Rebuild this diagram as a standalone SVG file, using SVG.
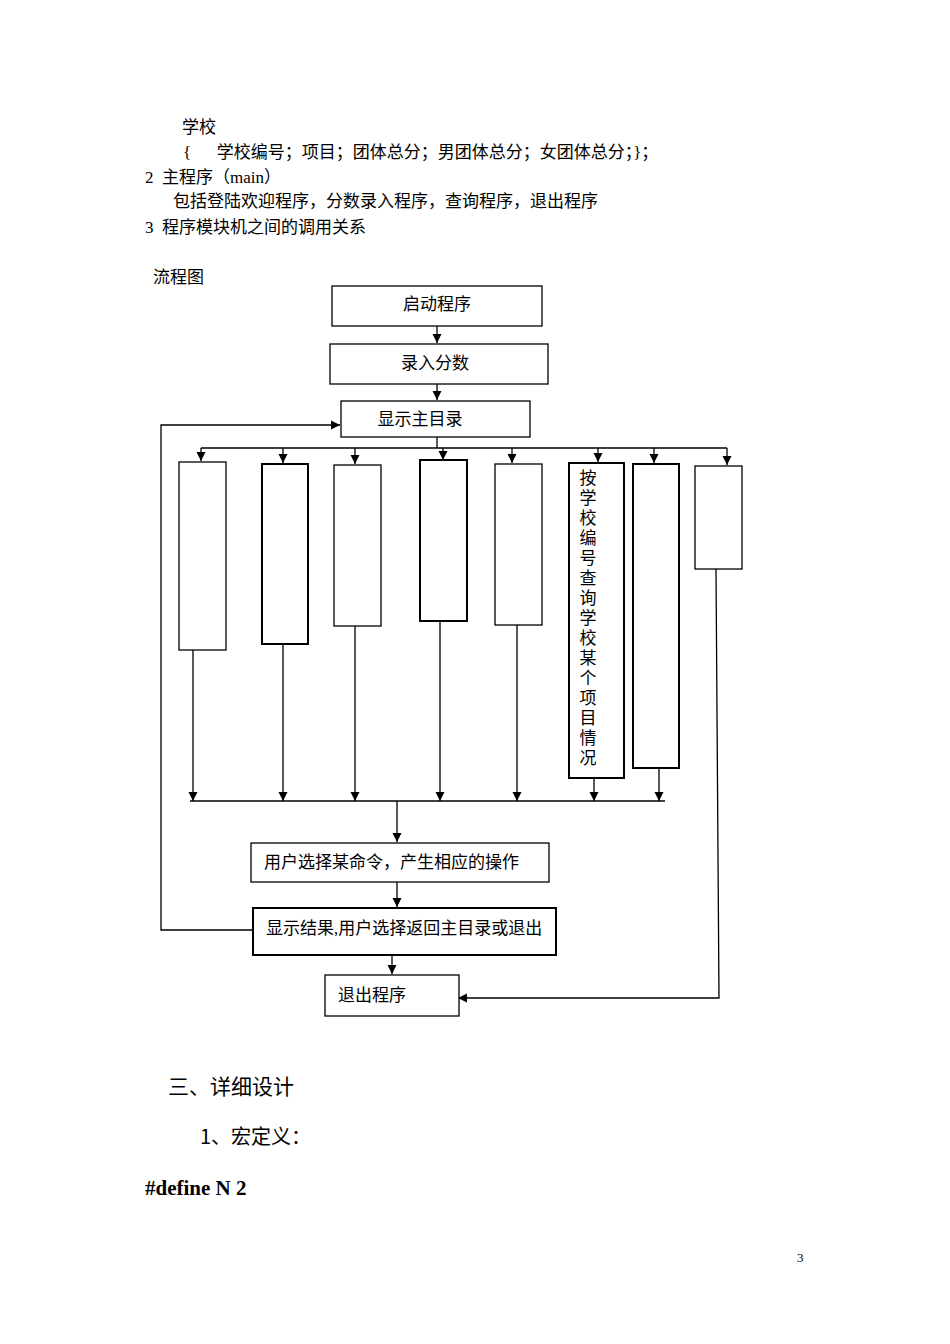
<svg xmlns="http://www.w3.org/2000/svg" width="950" height="1344" viewBox="0 0 950 1344">
<style>
text{font-family:"Liberation Serif","Noto Sans CJK SC",serif;fill:#000}
.t{font-size:17px}
.b rect{fill:#fff;stroke:#000;stroke-width:1.3}
.c line,.c polyline{stroke:#000;stroke-width:1.3;fill:none}
</style>
<defs><marker id="a" viewBox="0 0 10 10" refX="10" refY="5" markerWidth="7" markerHeight="7" orient="auto"><path d="M0,0L10,5L0,10z" fill="#000"/></marker></defs>
<rect width="950" height="1344" fill="#fff"/>
<text class="t" x="182" y="133">学校</text>
<text class="t" x="183" y="158" xml:space="preserve">{      学校编号；项目；团体总分；男团体总分；女团体总分；}；</text>
<text class="t" x="145" y="183" xml:space="preserve">2  主程序（main）</text>
<text class="t" x="173" y="207">包括登陆欢迎程序，分数录入程序，查询程序，退出程序</text>
<text class="t" x="145" y="233" xml:space="preserve">3  程序模块机之间的调用关系</text>
<text class="t" x="153" y="283">流程图</text>
<g class="c">
<line x1="437" y1="326" x2="437" y2="343" marker-end="url(#a)"/>
<line x1="437" y1="384" x2="437" y2="400" marker-end="url(#a)"/>
<line x1="437" y1="437" x2="437" y2="448"/>
<line x1="201" y1="448" x2="727" y2="448"/>
<line x1="201" y1="448" x2="201" y2="461" marker-end="url(#a)"/>
<line x1="283" y1="448" x2="283" y2="463" marker-end="url(#a)"/>
<line x1="355" y1="448" x2="355" y2="464" marker-end="url(#a)"/>
<line x1="443" y1="448" x2="443" y2="460" marker-end="url(#a)"/>
<line x1="512" y1="448" x2="512" y2="463" marker-end="url(#a)"/>
<line x1="598" y1="448" x2="598" y2="462" marker-end="url(#a)"/>
<line x1="654" y1="448" x2="654" y2="463" marker-end="url(#a)"/>
<line x1="727" y1="448" x2="727" y2="465" marker-end="url(#a)"/>
<line x1="193" y1="650" x2="193" y2="801" marker-end="url(#a)"/>
<line x1="283" y1="644" x2="283" y2="801" marker-end="url(#a)"/>
<line x1="355" y1="626" x2="355" y2="801" marker-end="url(#a)"/>
<line x1="440" y1="621" x2="440" y2="801" marker-end="url(#a)"/>
<line x1="517" y1="625" x2="517" y2="801" marker-end="url(#a)"/>
<line x1="594" y1="778" x2="594" y2="801" marker-end="url(#a)"/>
<line x1="659" y1="768" x2="659" y2="801" marker-end="url(#a)"/>
<line x1="190" y1="801" x2="665" y2="801"/>
<line x1="397" y1="801" x2="397" y2="842" marker-end="url(#a)"/>
<line x1="397" y1="882" x2="397" y2="907" marker-end="url(#a)"/>
<line x1="392" y1="955" x2="392" y2="974" marker-end="url(#a)"/>
<polyline points="253,930 161,930 161,425 340,425" marker-end="url(#a)"/>
<polyline points="716,569 719,998 458,998" marker-end="url(#a)"/>
</g>
<g class="b">
<g id="n1"><rect x="332" y="286" width="210" height="40"/><text class="t" x="437" y="310" text-anchor="middle">启动程序</text></g>
<g id="n2"><rect x="330" y="344" width="218" height="40"/><text class="t" x="435" y="369" text-anchor="middle">录入分数</text></g>
<g id="n3"><rect x="341" y="401" width="189" height="36"/><text class="t" x="420" y="425" text-anchor="middle">显示主目录</text></g>
<g id="v1"><rect x="179" y="462" width="47" height="188"/></g>
<g id="v2"><rect x="262" y="464" width="46" height="180" style="stroke-width:2"/></g>
<g id="v3"><rect x="334" y="465" width="47" height="161"/></g>
<g id="v4"><rect x="420" y="460" width="47" height="161" style="stroke-width:2"/></g>
<g id="v5"><rect x="495" y="464" width="47" height="161"/></g>
<g id="v6"><rect x="569" y="463" width="55" height="315" style="stroke-width:2"/><text x="588" y="469" style="font-size:17px;writing-mode:vertical-rl;letter-spacing:3px;font-family:'Noto Sans CJK SC',sans-serif">按学校编号查询学校某个项目情况</text></g>
<g id="v7"><rect x="633" y="464" width="46" height="304" style="stroke-width:2"/></g>
<g id="v8"><rect x="695" y="466" width="47" height="103"/></g>
<g id="n4"><rect x="251" y="843" width="298" height="39"/><text class="t" x="264" y="868">用户选择某命令，产生相应的操作</text></g>
<g id="n5"><rect x="253" y="908" width="303" height="47" style="stroke-width:2"/><text class="t" x="266" y="934">显示结果,用户选择返回主目录或退出</text></g>
<g id="n6"><rect x="325" y="975" width="134" height="41"/><text class="t" x="338" y="1001">退出程序</text></g>
</g>
<text x="168" y="1094" style="font-size:21px;font-family:'Noto Sans CJK SC',sans-serif">三、详细设计</text>
<text x="200" y="1144" style="font-size:20px;font-family:'Noto Sans CJK SC',sans-serif">1、宏定义：</text>
<text x="145" y="1195" style="font-size:21px;font-weight:bold">#define N 2</text>
<text x="797" y="1262" style="font-size:13px">3</text>
</svg>
